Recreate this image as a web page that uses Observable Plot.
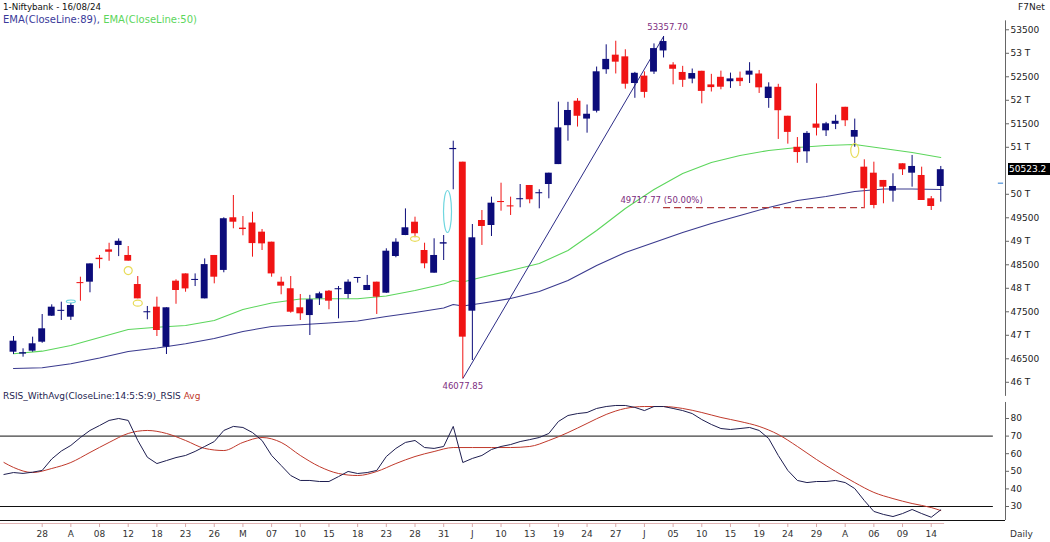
<!DOCTYPE html>
<html><head><meta charset="utf-8">
<script src="https://cdn.jsdelivr.net/npm/d3@7"></script>
<script src="https://cdn.jsdelivr.net/npm/@observablehq/plot@0.6"></script>
<style>
body{margin:0;background:#fff;font-family:"DejaVu Sans",sans-serif;}
#wrap{position:relative;width:1050px;height:542px;overflow:hidden;background:#fff;}
#wrap svg{position:absolute;left:0;overflow:visible;}
.t{position:absolute;white-space:nowrap;font-size:9px;line-height:11px;}
</style></head><body><div id="wrap"></div>
<script>
// ---- data ----
const dates = ["2024-03-22","2024-03-26","2024-03-27","2024-03-28",
"2024-04-01","2024-04-02","2024-04-03","2024-04-04","2024-04-05","2024-04-08","2024-04-09","2024-04-10","2024-04-12","2024-04-15","2024-04-16","2024-04-18","2024-04-19","2024-04-22","2024-04-23","2024-04-24","2024-04-25","2024-04-26","2024-04-29","2024-04-30",
"2024-05-02","2024-05-03","2024-05-06","2024-05-07","2024-05-08","2024-05-09","2024-05-10","2024-05-13","2024-05-14","2024-05-15","2024-05-16","2024-05-17","2024-05-18","2024-05-21","2024-05-22","2024-05-23","2024-05-24","2024-05-27","2024-05-28","2024-05-29","2024-05-30","2024-05-31",
"2024-06-03","2024-06-04","2024-06-05","2024-06-06","2024-06-07","2024-06-10","2024-06-11","2024-06-12","2024-06-13","2024-06-14","2024-06-18","2024-06-19","2024-06-20","2024-06-21","2024-06-24","2024-06-25","2024-06-26","2024-06-27","2024-06-28",
"2024-07-01","2024-07-02","2024-07-03","2024-07-04","2024-07-05","2024-07-08","2024-07-09","2024-07-10","2024-07-11","2024-07-12","2024-07-15","2024-07-16","2024-07-18","2024-07-19","2024-07-22","2024-07-23","2024-07-24","2024-07-25","2024-07-26","2024-07-29","2024-07-30","2024-07-31",
"2024-08-01","2024-08-02","2024-08-05","2024-08-06","2024-08-07","2024-08-08","2024-08-09","2024-08-12","2024-08-13","2024-08-14","2024-08-16"];
const open = [46640,46600,46662,46853, 47406,47510,47385,48120,48130,48640,48817,48910,48698,48080,47480,47598,46747,48151,48306,48170,47775,48698,48380,49500,
49280,49389,49194,48981,48130,47990,47585,47420,47777,47938,47970,47868,48215,47953,48130,47896,48676,49123,49406,48804,48321,48940,
50950,50683,47513,49442,49336,49845,49750,49890,50187,50015,50208,50632,51460,51980,51600,51767,52650,52960,52924,
52357,52514,52600,53050,52750,52592,52451,52617,52327,52489,52395,52470,52535,52559,52038,52276,51660,51000,50904,51494,51350,51489,
51851,51215,50577,50449,50294,50066,50649,50449,50400,49904,50166];
const high = [46974,46712,46960,47442, 47648,47704,47680,48236,48519,48698,48958,49050,48889,48250,47613,47811,47585,48180,48306,48306,48625,48698,49500,49974,
49527,49618,49251,48981,48236,48250,47868,47850,47917,47953,48038,48180,48223,48273,48130,48840,49053,49689,49513,48959,49053,49123,
51130,50683,49357,49655,49939,50236,49939,50208,50187,50096,50449,51960,51957,52035,51900,52707,53180,53256,53075,
52594,52605,53200,53357.7,52800,52722,52665,52617,52552,52620,52578,52600,52800,52634,52372,52340,51660,51207,51334,52350,51530,51681,
51851,51600,50734,50683,50294,50436,50649,50826,50577,49953,50592];
const low = [46591,46534,46640,46830, 47400,47315,47315,47725,47904,48415,48575,48674,48577,47775,47330,46974,46591,47660,47916,48037,47775,48095,48330,49266,
49117,48662,48804,48236,47862,47470,47315,46995,47634,47543,47350,47776,48109,47950,47443,47890,48649,49120,49074,48415,48321,48591,
50096,46077.85,46463,48911,49102,49640,49549,49713,49798,49691,49904,50632,51130,51430,51300,51730,52553,52560,52237,
52042,52045,52550,52900,52329,52274,52351,51924,52176,52223,52253,52293,52357,52145,51829,51167,51067,50659,50658,51241,51229,51376,
51440,51000,49691,49691,49798,49832,50400,50151,49868,49655,49832];
const close = [46874,46630,46819,47138, 47598,47530,47634,48100,48519,48610,48767,49000,48577,47775,47500,47102,47585,47953,47987,48185,48504,48236,49480,49406,
49250,48951,48945,48306,48045,47491,47457,47755,47883,47725,47990,48130,48223,48060,47811,48789,48981,49287,49160,48521,48698,48970,
50975,46960,49074,49315,49811,49825,49735,49900,49883,50030,50449,51413,51783,51660,51703,52606,52870,52811,52342,
52574,52168,53100,53250,52660,52425,52569,52189,52270,52278,52455,52396,52620,52265,52280,51778,51317,50888,51296,51406,51499,51553,
51564,51357,50117,49762,50151,50166,50521,50592,49868,49740,50523.2];

// EMA lines (candle index, value)
const ema89Idx = [0,3,6,9,12,15,18,21,24,27,30,33,36,39,42,45,46,47,49,52,55,58,61,64,67,70,73,76,79,82,85,88,91,94,97];
const ema89Val = [46294,46309,46394,46517,46655,46730,46819,46932,47081,47187,47223,47262,47304,47400,47485,47581,47655,47623,47683,47783,47932,48166,48485,48762,48974,49187,49379,49549,49719,49868,49953,50060,50113,50113,50102];
const ema50Idx = [0,3,6,9,12,15,18,21,24,27,30,33,36,39,42,45,46,47,49,52,55,58,61,64,67,70,73,76,79,82,85,88,91,94,97];
const ema50Val = [46606,46662,46783,46953,47123,47172,47209,47315,47549,47687,47772,47777,47777,47836,47953,48091,48166,48134,48236,48379,48528,48804,49230,49698,50100,50443,50677,50826,50932,50996,51038,51060,50974,50889,50783];

// RSI and its average (candle index, value)
const rsiIdx = d3.range(-1, 98);
const rsiVal = [48.2,49.3,48.8,49.5,50.5,57,61.5,64.7,69.2,73.2,76,78.9,80,78.9,67.5,58,54.4,56.1,57.8,59,61.3,64.1,66.9,73.2,75.5,
74.9,72,67.5,59,53.3,47.6,44.8,44.8,44.2,44.2,47,49.9,48.75,49.3,50.5,58.4,63,66.4,67.5,63.5,63,64.1,
75.5,55,57.3,59,62.4,64.1,65.2,66.9,68,69.2,71.5,78.3,81.7,82.8,83.4,85.7,86.8,87.4,87.4,
86.3,84.5,86.8,86.8,85.7,84.5,82.8,79.4,76.6,74.3,73.75,74.3,74.9,73.2,68.6,59,50.5,44.8,43.6,44.2,44.2,44.8,
43.6,40.2,33.4,27.2,25.5,24.3,26,28.3,26,23.9,28.1];
const avgIdx = [-1,0,2,4,6,8,10,12,14,16,18,20,22,24,26,28,30,32,34,36,38,40,42,44,46,48,50,52,54,56,58,60,62,64,66,68,70,72,74,76,78,80,82,84,86,88,90,92,94,96,97];
const avgVal = [55,52.2,49.3,51.6,55,60.7,66.4,71.5,73.2,71.5,67.5,63,61.8,66.4,69.2,66.4,59,52.7,48.75,47.6,49.9,54.4,58.4,61.25,63.5,63.5,63.5,63.5,64.1,67.5,72,77.2,82.3,85.7,86.8,86.8,85.7,83.4,80.6,78.3,75.5,70.9,64.1,56.7,49.9,43.6,38,34.5,31.7,29.4,27.7];

// axis ticks (50500 is hidden under the last-price box in the reference)
const priceTicks = [46000,46500,47000,47500,48000,48500,49000,49500,50000,51000,51500,52000,52500,53000,53500];
const rsiTicks = [30,40,50,60,70,80];
const dateTickIdx = d3.range(3, 97, 3);
const dateTickLabels = ["28","A","08","12","18","23","26","M","07","10","15","18","23","28","31","J","10","13","19","24","27","J","05","10","15","19","24","29","A","06","09","14"];

// fibonacci annotation
const fibLow = {i: 47, p: 46077.85, label: "46077.85"};
const fibHigh = {i: 68, p: 53357.70, label: "53357.70"};
const fibMid = {p: 49717.77, label: "49717.77 (50.00%)", endI: 89};

// markers
const yellowMarks = [{i:12,p:48377,rx:4,ry:4},{i:13,p:47683,rx:4.5,ry:3},{i:42,p:49053,rx:4.5,ry:2.5},{i:88,p:50932,rx:4,ry:7}];
const cyanMarks = [{i:6,p:47719,rx:4.5,ry:1.5},{i:45.4,p:49634,rx:4,ry:21}];

// ---- drawing ----
const NAVY = "#0c0c7a", RED = "#f01414";
const candles = dates.map((d, i) => ({i, date: d, o: open[i], h: high[i], l: low[i], c: close[i]}));
candles.forEach(d => {
  const top = Math.max(d.o, d.c), bot = Math.min(d.o, d.c);
  const minH = 22;
  if (top - bot < minH) { const m = (top + bot) / 2; d.bt = m + minH / 2; d.bb = m - minH / 2; }
  else { d.bt = top; d.bb = bot; }
  d.col = d.c >= d.o ? NAVY : RED;
});
const ema89 = ema89Idx.map((i, k) => ({i, v: ema89Val[k]}));
const ema50 = ema50Idx.map((i, k) => ({i, v: ema50Val[k]}));
const rsi = rsiIdx.map((i, k) => ({i, v: rsiVal[k]}));
const avg = avgIdx.map((i, k) => ({i, v: avgVal[k]}));

function ellipse(rx, ry) {
  const k = 0.5523;
  return {draw(ctx) {
    ctx.moveTo(rx, 0);
    ctx.bezierCurveTo(rx, ry * k, rx * k, ry, 0, ry);
    ctx.bezierCurveTo(-rx * k, ry, -rx, ry * k, -rx, 0);
    ctx.bezierCurveTo(-rx, -ry * k, -rx * k, -ry, 0, -ry);
    ctx.bezierCurveTo(rx * k, -ry, rx, -ry * k, rx, 0);
    ctx.closePath();
  }};
}

const X0 = -1.36, X1 = 103.77, HW = 0.36;
const fmtPrice = d => d % 1000 === 0 ? (d / 1000) + " T" : String(d);
const font = {fontFamily: "DejaVu Sans, sans-serif", fontSize: "9px", background: "transparent", overflow: "visible"};

const main = Plot.plot({
  width: 1050, height: 398, marginTop: 0, marginBottom: 0, marginLeft: 0, marginRight: 45,
  x: {domain: [X0, X1], axis: null},
  y: {domain: [45655, 54123], axis: null},
  style: font,
  marks: [
    Plot.ruleX([X1], {y1: 53690, y2: 45700, stroke: "#666"}),
    Plot.axisY({anchor: "right", label: null, ticks: priceTicks, tickFormat: fmtPrice, tickSize: 3, tickPadding: 2, stroke: "#666", fill: "#222"}),
    Plot.line(ema89, {x: "i", y: "v", stroke: "#3a3a8e", strokeWidth: 1.1}),
    Plot.line(ema50, {x: "i", y: "v", stroke: "#5cd65c", strokeWidth: 1.1}),
    Plot.link([fibLow], {x1: d => d.i, y1: d => d.p, x2: () => fibHigh.i, y2: () => fibHigh.p, stroke: "#2c2c86", strokeWidth: 1}),
    Plot.ruleY([fibMid], {y: "p", x1: () => fibHigh.i, x2: d => d.endI, stroke: "#b03a3a", strokeDasharray: "7,4", strokeWidth: 1.2}),
    Plot.ruleX(candles, {x: "i", y1: "l", y2: "h", stroke: "col", strokeWidth: 1}),
    Plot.rect(candles, {x1: d => d.i - HW, x2: d => d.i + HW, y1: "bb", y2: "bt", fill: "col"}),
    ...yellowMarks.map(m => Plot.dot([m], {x: "i", y: "p", symbol: ellipse(m.rx, m.ry), stroke: "#e8dc5a", strokeWidth: 1.2, fill: "none"})),
    ...cyanMarks.map(m => Plot.dot([m], {x: "i", y: "p", symbol: ellipse(m.rx, m.ry), stroke: "#6fd6df", strokeWidth: 1.2, fill: "none"})),
    Plot.text([fibHigh], {x: "i", y: "p", text: "label", dy: -9, dx: 4, fill: "#7d2d80", fontSize: 8.5}),
    Plot.text([fibLow], {x: "i", y: "p", text: "label", dy: 8, fill: "#7d2d80", fontSize: 8.5}),
    Plot.text([fibMid], {x: () => fibHigh.i, y: "p", text: "label", dy: -7, dx: -2, fill: "#7d2d80", fontSize: 8.5}),
    Plot.ruleY([50236], {x1: X1 - 0.75, x2: X1 - 0.2, stroke: "#4a8fd8", strokeWidth: 1.2})
  ]
});
main.style.top = "0px";

const rsiPlot = Plot.plot({
  width: 1050, height: 144, marginTop: 0, marginBottom: 22, marginLeft: 0, marginRight: 45,
  x: {domain: [X0, X1], axis: null},
  y: {domain: [22.05, 91.36], axis: null},
  style: font,
  marks: [
    Plot.ruleY([70, 30], {x1: X0, x2: 102.5, stroke: "#111", strokeWidth: 1}),
    Plot.ruleY([22.05], {x1: X0, x2: X1, stroke: "#111", strokeWidth: 1}),
    Plot.ruleY([20.34], {x1: X0, x2: 97.4, stroke: "#e0b4b4", strokeWidth: 1.2}),
    Plot.axisX({label: null, ticks: dateTickIdx, tickFormat: (d, k) => dateTickLabels[k], tickSize: 4, tickPadding: 3, dy: 3, stroke: "#d8a8a8", fill: "#333", fontSize: 9}),
    Plot.ruleX([X1], {y1: 89.1, y2: 22.05, stroke: "#666"}),
    Plot.axisY({anchor: "right", label: null, ticks: rsiTicks, tickSize: 3, tickPadding: 2, stroke: "#666", fill: "#222"}),
    Plot.line(avg, {x: "i", y: "v", stroke: "#c0392b", strokeWidth: 1, curve: "monotone-x"}),
    Plot.line(rsi, {x: "i", y: "v", stroke: "#1e1e50", strokeWidth: 1})
  ]
});
rsiPlot.style.top = "398px";

const wrap = document.getElementById("wrap");
wrap.appendChild(main);
wrap.appendChild(rsiPlot);

function addText(html, left, top, extra) {
  const d = document.createElement("div");
  d.className = "t"; d.innerHTML = html; d.style.left = left + "px"; d.style.top = top + "px";
  if (extra) Object.assign(d.style, extra);
  wrap.appendChild(d); return d;
}
addText("1-Niftybank - 16/08/24", 3, 2, {color: "#111", fontSize: "8.7px"});
addText('<span style="color:#3a3a9a">EMA(CloseLine:89), </span><span style="color:#5cd65c">EMA(CloseLine:50)</span>', 3, 14, {fontSize: "10px"});
addText("F7Net", 1018, 2, {color: "#222"});
addText('<span style="color:#1e1e50">RSIS_WithAvg(CloseLine:14:5:S:9)_RSIS</span> <span style="color:#c0392b">Avg</span>', 3, 391);
addText("Daily", 1010, 529, {color: "#333"});

// last price box, positioned through the main y scale
const yS = main.scale("y");
const lastClose = close[close.length - 1];
const py = yS.apply(lastClose);
addText(String(lastClose), 1008, py - 6, {background: "#000", color: "#fff", width: "42px", height: "12px", lineHeight: "12px", paddingLeft: "1px"});
</script>
</body></html>
